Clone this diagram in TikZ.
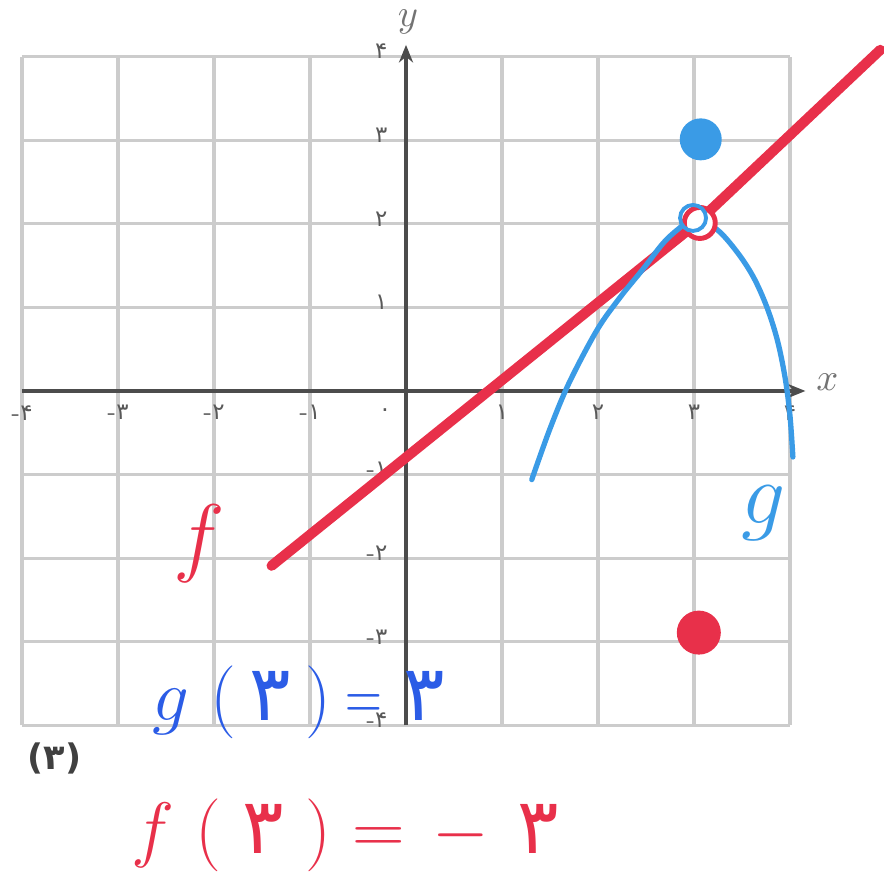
\documentclass[tikz,border=0pt]{standalone}
\usepackage{fontspec}
\usepackage{tikz}
\usetikzlibrary{arrows.meta}
\newfontfamily\arabicfont[Script=Arabic]{DejaVu Sans}
\definecolor{fred}{HTML}{E8304A}
\definecolor{gblue}{HTML}{3A9BE6}
\definecolor{penblue}{HTML}{2B5CE6}
\tikzset{
  gridln/.style={draw=black!20, line width=0.9pt},
  axis/.style={draw=black!70, line width=1.1pt, -{Stealth[length=5pt,width=4pt]}},
  tlab/.style={font=\fontsize{6.5}{6.5}\selectfont, text=black!65, inner sep=1pt},
  fline/.style={draw=fred, line width=2.9pt, line cap=round},
  gcurve/.style={draw=gblue, line width=1.5pt, line cap=round},
  dot/.style={circle, inner sep=0pt},
  hand/.style={inner sep=0pt, font=\fontsize{22}{22}\selectfont}
}
\newcommand{\fa}[1]{{\arabicfont #1}}

\begin{document}
\begin{tikzpicture}[x=0.96cm, y=0.836cm]
\useasboundingbox (-4.06cm,-4.99cm) rectangle (4.77cm,3.91cm);
% grid
\foreach \k in {-4,...,4} {
  \draw[gridln] (\k,-4) -- (\k,4);
  \draw[gridln] (-4,\k) -- (4,\k);
}
% axes
\coordinate (xl) at (-4,0);
\coordinate (xr) at (4.16,0);
\coordinate (yb) at (0,-4);
\coordinate (yt) at (0,4.14);
\draw[axis] (xl) -- (xr);
\draw[axis] (yb) -- (yt);
\node[font=\fontsize{11}{11}\selectfont, text=black!55] (xname) at (4.39,0.10) {$x$};
\node[font=\fontsize{11}{11}\selectfont, text=black!55] (yname) at (0.02,4.41) {$y$};
% tick labels
\foreach \k/\d in {1/۱,2/۲,3/۳,4/۴} {
  \node[tlab] (lx\k) at (\k,-0.26) {\fa{\d}};
  \node[tlab] (lxm\k) at (-\k,-0.26) {-\fa{\d}};
  \node[tlab, anchor=east] (ly\k) at (-0.15,\k+0.06) {\fa{\d}};
  \node[tlab, anchor=east] (lym\k) at (-0.15,-\k+0.06) {-\fa{\d}};
}
\node[tlab] (lx0) at (-0.22,-0.26) {\fa{۰}};
% f
\coordinate (fstart) at (-1.40,-2.09);
\coordinate (fmid) at (3.02,2.0);
\coordinate (fend) at (4.94,4.08);
\draw[fline] (fstart) -- (fmid) -- (fend);
% g
\draw[gcurve] plot[smooth, tension=0.55] coordinates {(1.31,-1.06) (1.50,-0.45) (1.70,0.10) (1.99,0.73) (2.23,1.12) (2.47,1.46) (2.68,1.77) (2.85,1.95) (3.0,2.06) (3.24,1.93) (3.45,1.66) (3.62,1.36) (3.76,1.0) (3.87,0.6) (3.95,0.15) (4.0,-0.3) (4.03,-0.79)};
% points
\node[dot, draw=fred, line width=1.4pt, fill=white, minimum size=0.31cm] (fhole) at (3.06,2.01) {};
\node[dot, draw=gblue, line width=1.1pt, minimum size=0.26cm] (ghole) at (2.99,2.07) {};
\node[dot, fill=gblue, minimum size=0.42cm] (gdot) at (3.07,3.01) {};
\node[dot, fill=fred, minimum size=0.44cm] (fdot) at (3.05,-2.89) {};
% names
\node[text=fred, font=\fontsize{26}{26}\selectfont] (flab) at (-2.15,-1.82) {$f$};
\node[text=gblue, font=\fontsize{28}{28}\selectfont] (glab) at (3.72,-1.46) {$g$};
\node[font=\arabicfont\bfseries\fontsize{10}{10}\selectfont, text=black!75] (pnum) at (-3.66,-4.39) {(۳)};
\node[hand, text=penblue] (geq) at (-1.12,-3.72) {$g$\hspace{6pt}$($\hspace{4pt}\fa{۳}\hspace{4pt}$)$\hspace{4pt}\scalebox{0.7}[1]{$=$}\hspace{6pt}\fa{۳}};
\node[hand, text=fred] (feq) at (-0.63,-5.31) {$f$\hspace{6pt}$($\hspace{6pt}\fa{۳}\hspace{6pt}$)$\hspace{6pt}$=$\hspace{8pt}$-$\hspace{8pt}\fa{۳}};
\end{tikzpicture}
\end{document}
